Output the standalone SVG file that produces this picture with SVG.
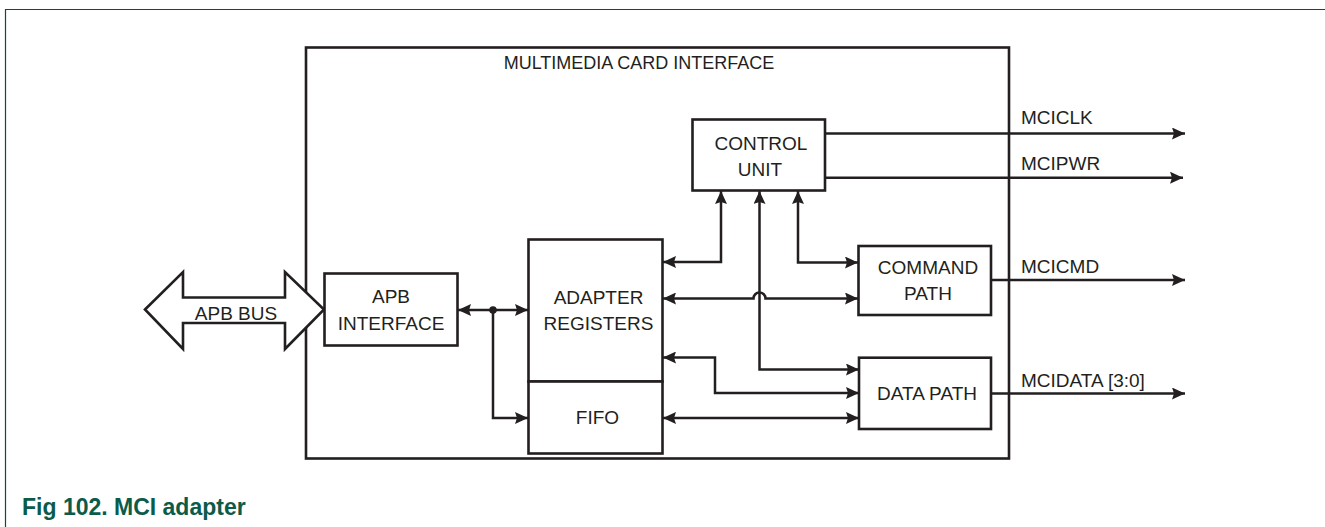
<svg xmlns="http://www.w3.org/2000/svg" width="1325" height="527" viewBox="0 0 1325 527">
<style>
.box{fill:#fff;stroke:#231f20;stroke-width:2.6}
.ln{fill:none;stroke:#231f20;stroke-width:2.5}
.t{font-family:"Liberation Sans",Arial,sans-serif;font-size:19px;fill:#231f20}
.c{text-anchor:middle}
</style>
<defs>
<marker id="ah" markerUnits="userSpaceOnUse" viewBox="0 0 13 12" markerWidth="13" markerHeight="12" refX="13" refY="6" orient="auto-start-reverse">
<path d="M0,0 L13,6 L0,12 L2,6 z" fill="#231f20"/>
</marker>
</defs>
<rect width="1325" height="527" fill="#fff"/>
<path d="M5.5,527 V9.5 H1325" fill="none" stroke="#0a4d3c" stroke-width="1.2"/>
<g id="mci">
<rect class="box" x="306" y="47.5" width="703" height="411" style="fill:none"/>
<text class="t c" x="639" y="68.5" style="font-size:18px">MULTIMEDIA CARD INTERFACE</text>
</g>
<g id="connectors">
<line class="ln" x1="458" y1="310" x2="528" y2="310" marker-start="url(#ah)" marker-end="url(#ah)"/>
<path class="ln" d="M493,310 V418 H528" marker-end="url(#ah)"/>
<circle cx="493" cy="310" r="3.8" fill="#231f20"/>
<path class="ln" d="M663,262 H721 V191" marker-start="url(#ah)" marker-end="url(#ah)"/>
<path class="ln" d="M663,298.5 H753.5 A6,6 0 0 1 765.5,298.5 H858" marker-start="url(#ah)" marker-end="url(#ah)"/>
<path class="ln" d="M798,191 V262.5 H858" marker-start="url(#ah)" marker-end="url(#ah)"/>
<path class="ln" d="M759.5,191 V369.5 H859" marker-start="url(#ah)" marker-end="url(#ah)"/>
<path class="ln" d="M663,357.5 H715 V393 H859" marker-start="url(#ah)" marker-end="url(#ah)"/>
<line class="ln" x1="663" y1="418" x2="859" y2="418" marker-start="url(#ah)" marker-end="url(#ah)"/>
<line class="ln" x1="825" y1="133.5" x2="1185" y2="133.5" marker-end="url(#ah)"/>
<line class="ln" x1="825" y1="177.7" x2="1183" y2="177.7" marker-end="url(#ah)"/>
<line class="ln" x1="991" y1="280" x2="1185" y2="280" marker-end="url(#ah)"/>
<line class="ln" x1="991" y1="393.5" x2="1185" y2="393.5" marker-end="url(#ah)"/>
<text class="t" x="1021" y="124">MCICLK</text>
<text class="t" x="1021" y="170">MCIPWR</text>
<text class="t" x="1021" y="272.5">MCICMD</text>
<text class="t" x="1021" y="386.5">MCIDATA [3:0]</text>
</g>
<g id="apb-bus">
<polygon class="box" points="145,309.5 183,272 183,297.5 285,297.5 285,272 324,309.5 285,349 285,323 183,323 183,349"/>
<text class="t c" x="236" y="320">APB BUS</text>
</g>
<g id="apb-interface">
<rect class="box" x="324.5" y="273.5" width="133" height="72"/>
<text class="t c" x="391" y="303">APB</text>
<text class="t c" x="391" y="330">INTERFACE</text>
</g>
<g id="adapter-registers">
<rect class="box" x="528.5" y="239.5" width="134" height="142"/>
<text class="t c" x="598.5" y="304">ADAPTER</text>
<text class="t c" x="598.5" y="329.5">REGISTERS</text>
</g>
<g id="fifo">
<rect class="box" x="528.5" y="381.5" width="134" height="72"/>
<text class="t c" x="597.5" y="423.5">FIFO</text>
</g>
<g id="control-unit">
<rect class="box" x="692.5" y="119.5" width="132.5" height="71"/>
<text class="t c" x="761" y="150">CONTROL</text>
<text class="t c" x="760" y="176">UNIT</text>
</g>
<g id="command-path">
<rect class="box" x="858.5" y="246" width="132.5" height="69"/>
<text class="t c" x="928" y="274">COMMAND</text>
<text class="t c" x="928" y="299.5">PATH</text>
</g>
<g id="data-path">
<rect class="box" x="859" y="357.7" width="132" height="71.3"/>
<text class="t c" x="927" y="400">DATA PATH</text>
</g>
<text x="22" y="514.5" style="font-family:'Liberation Sans',Arial,sans-serif;font-size:23px;font-weight:bold;fill:#0b5b4a">Fig 102. MCI adapter</text>
</svg>
